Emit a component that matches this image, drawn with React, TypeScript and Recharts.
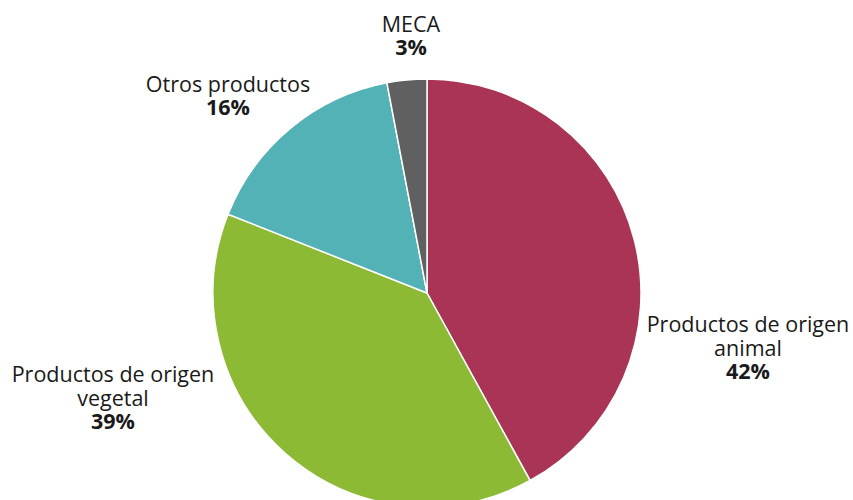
import { Cell, Pie, PieChart } from 'recharts'

const CATEGORIES = ['Productos de origen animal', 'Productos de origen vegetal', 'Otros productos', 'MECA']
const LABEL_LINES = [['Productos de origen', 'animal'], ['Productos de origen', 'vegetal'], ['Otros productos'], ['MECA']]
const SHARES = [42, 39, 16, 3]
const COLORS = ['#a93455', '#8dba34', '#52b2b5', '#606060']

// label block anchors relative to pie centre (centre x, first baseline)
const LABEL_OFFSETS = [
  { dx: 321, dy: 39 },
  { dx: -314, dy: 89 },
  { dx: -199, dy: -201 },
  { dx: -16, dy: -261 },
]

const data = CATEGORIES.map((name, i) => ({ name, value: SHARES[i] }))

const FONT = "'Open Sans', Lato, sans-serif"

function renderLabel(props: any) {
  const { cx, cy, index, value } = props
  const off = LABEL_OFFSETS[index]
  const x = cx + off.dx
  const y = cy + off.dy
  const lines = LABEL_LINES[index]
  return (
    <text x={x} y={y} textAnchor="middle" fill="#1a1a1a" fontFamily={FONT} fontSize={21.5}>
      {lines.map((l, i) => (
        <tspan key={i} x={x} dy={i === 0 ? 0 : 24}>
          {l}
        </tspan>
      ))}
      <tspan x={x} dy={23} fontWeight="bold">
        {value}%
      </tspan>
    </text>
  )
}

export default function App() {
  return (
    <div style={{ position: 'absolute', left: 0, top: 0, background: '#fff' }}>
      <PieChart width={853} height={500} margin={{ top: 0, right: 0, bottom: 0, left: 0 }}>
        <Pie
          data={data}
          dataKey="value"
          nameKey="name"
          cx={427}
          cy={293}
          outerRadius={214}
          startAngle={90}
          endAngle={-270}
          stroke="#ffffff"
          strokeWidth={1.5}
          label={renderLabel}
          labelLine={false}
          isAnimationActive={false}
        >
          {data.map((d, i) => (
            <Cell key={d.name} fill={COLORS[i]} />
          ))}
        </Pie>
      </PieChart>
    </div>
  )
}
